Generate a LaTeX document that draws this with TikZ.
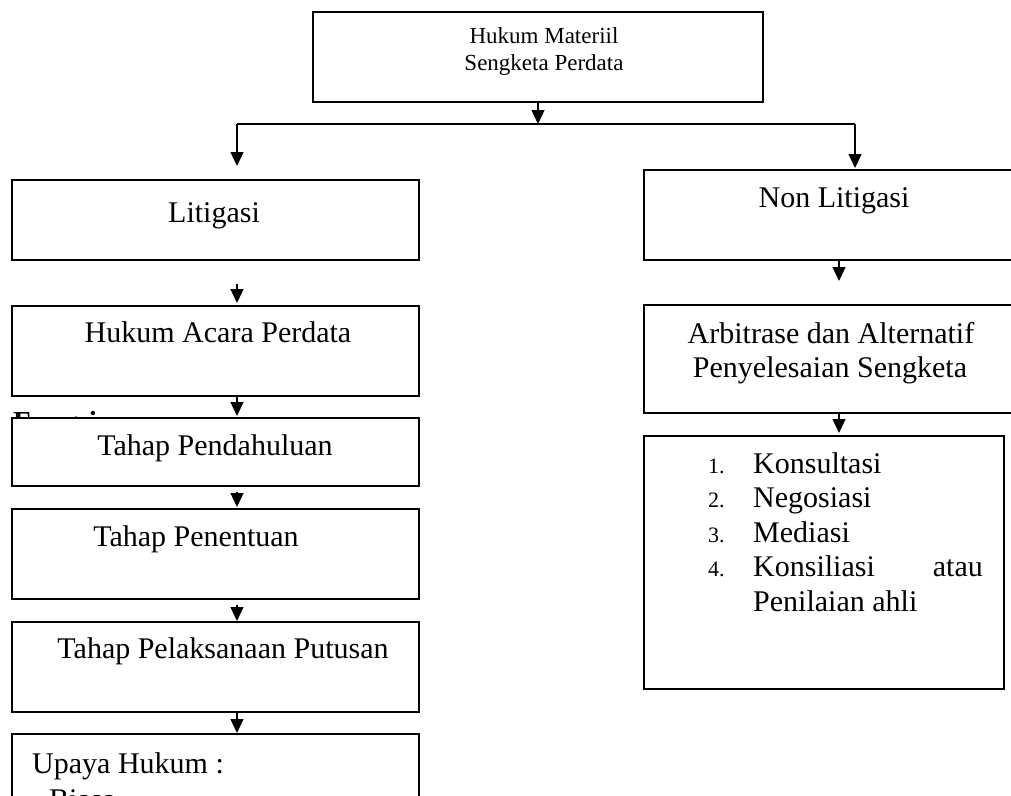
\documentclass[tikz,border=0pt]{standalone}
\usepackage{fontspec}
\setmainfont{Liberation Serif}
\usetikzlibrary{arrows.meta,positioning}

\begin{document}
\begin{tikzpicture}[x=1pt,y=-1pt,
    box/.style={rectangle, draw, line width=1.5pt, fill=white, anchor=north west, inner sep=0pt},
    txt/.style={anchor=base, inner sep=0pt, font=\fontsize{30}{34.5}\selectfont},
    small/.style={anchor=base, inner sep=0pt, font=\fontsize{23}{26}\selectfont},
    num/.style={anchor=base west, inner sep=0pt, font=\fontsize{22}{25}\selectfont},
    item/.style={txt, anchor=base west},
    link/.style={line width=1.3pt, -{Triangle[width=13pt,length=14pt]}}]
    \clip (0,0) rectangle (1011,795);
    % top box
    \node[box, minimum width=450, minimum height=90] (top) at (312,11) {};
    \node[small] (topA) at (544,43) {Hukum Materiil};
    \node[small] (topB) at (544,70) {Sengketa Perdata};
    \coordinate (jm) at (538,124);
    \coordinate (jl) at (237,124);
    \coordinate (jr) at (855,124);
    \coordinate (ax) at (237,0);
    \coordinate (bx) at (839,0);

    % left column
    \node[box, minimum width=407, minimum height=80] (lit) at (11,179) {};
    \node[txt] (litT) at (214,222) {Litigasi};
    \node[box, minimum width=407, minimum height=90] (acara) at (11,305) {};
    \node[txt] (acaraT) at (218,342) {Hukum Acara Perdata};
    \node[anchor=base west, inner sep=0pt, font=\bfseries\fontsize{29}{33}\selectfont] (fungsi) at (13,431) {Fungsi};
    \node[box, minimum width=407, minimum height=68] (pend) at (11,417) {};
    \node[txt] (pendT) at (215,455) {Tahap Pendahuluan};
    \node[box, minimum width=407, minimum height=90] (penent) at (11,508) {};
    \node[txt] (penentT) at (196,546) {Tahap Penentuan};
    \node[box, minimum width=407, minimum height=90] (laks) at (11,621) {};
    \node[txt] (laksT) at (223,658) {Tahap Pelaksanaan Putusan};
    \node[box, minimum width=407, minimum height=120] (upaya) at (11,733) {};
    \node[item] (upayaT) at (32,773) {Upaya Hukum :};
    \node[item] (biasa) at (33,809) {{\fontsize{20}{20}\selectfont\textbullet}\hspace{9pt}Biasa};

    % right column
    \node[box, minimum width=400, minimum height=90] (nonlit) at (643,169) {};
    \node[txt] (nonlitT) at (834,207) {Non Litigasi};
    \node[box, minimum width=400, minimum height=108] (arb) at (643,304) {};
    \node[txt] (arbA) at (831,343) {Arbitrase dan Alternatif};
    \node[txt] (arbB) at (830,377) {Penyelesaian Sengketa};
    \node[box, minimum width=360, minimum height=253] (alt) at (643,435) {};
    \node[num] (n1) at (708,473) {1.};
    \node[item] (i1) at (753,473) {Konsultasi};
    \node[num] (n2) at (708,507) {2.};
    \node[item] (i2) at (753,507) {Negosiasi};
    \node[num] (n3) at (708,542) {3.};
    \node[item] (i3) at (753,542) {Mediasi};
    \node[num] (n4) at (708,576) {4.};
    \node[item] (i4) at (753,576) {Konsiliasi};
    \node[txt, anchor=base east] (i4b) at (983,576) {atau};
    \node[item] (i5) at (753,611) {Penilaian ahli};

    % connectors
    \draw[link] (top.south -| jm) -- (jm);
    \draw[line width=1.3pt] (jl) -- (jr);
    \draw[link, shorten >=13] (jl) -- (jl |- lit.north);
    \draw[link, shorten >=1] (jr) -- (jr |- nonlit.north);
    \draw[link, shorten <=23, shorten >=2] (ax |- lit.south) -- (ax |- acara.north);
    \draw[link, shorten >=1] (ax |- acara.south) -- (ax |- pend.north);
    \draw[link, shorten <=5, shorten >=1] (ax |- pend.south) -- (ax |- penent.north);
    \draw[link, shorten <=5] (ax |- penent.south) -- (ax |- laks.north);
    \draw[link] (ax |- laks.south) -- (ax |- upaya.north);
    \draw[link, shorten >=23] (bx |- nonlit.south) -- (bx |- arb.north);
    \draw[link, shorten >=2] (bx |- arb.south) -- (bx |- alt.north);
\end{tikzpicture}
\end{document}
